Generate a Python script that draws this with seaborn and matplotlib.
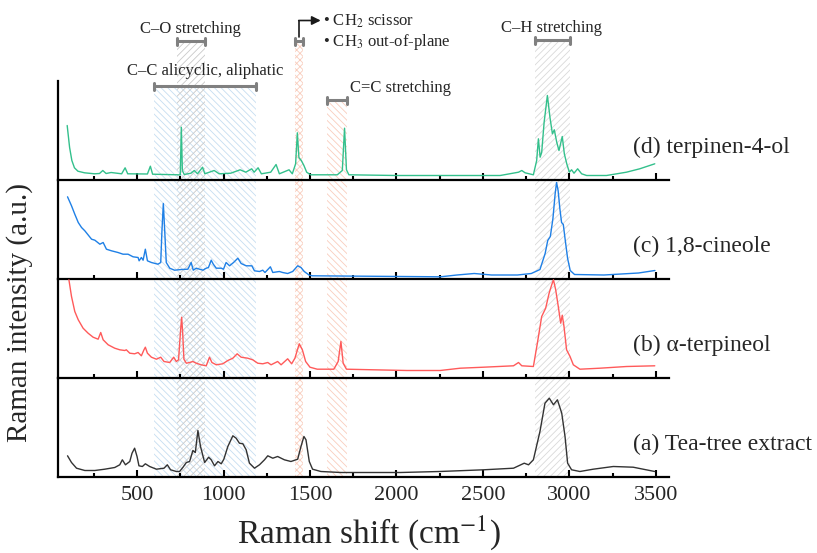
import seaborn as sns
import matplotlib.pyplot as plt
from matplotlib.ticker import MultipleLocator

# spectra: Raman shift (cm-1) and height above each panel baseline (px)
d_x = [96, 110, 123, 138, 158, 196, 254, 283, 302, 321, 350, 411, 431, 446, 560, 577, 590,
       735, 750, 756, 762, 773, 812, 831, 850, 879, 892, 946, 975, 1042, 1096, 1129, 1163,
       1177, 1200, 1219, 1273, 1304, 1323, 1379, 1398, 1417, 1427, 1436, 1450, 1465, 1481,
       1504, 1658, 1687, 1700, 1711, 1725, 2000, 2600, 2706, 2725, 2744, 2792, 2811, 2821,
       2831, 2840, 2854, 2873, 2888, 2902, 2913, 2927, 2940, 2959, 2971, 2985, 3000, 3013,
       3027, 3048, 3071, 3100, 3215, 3330, 3407, 3494]
d_y = [54, 32, 19, 11.7, 8.3, 6.7, 5.7, 6, 9, 6, 7, 5.7, 11.7, 5.7, 5.5, 13.3, 5.3,
       4.7, 4.5, 52.3, 9, 5, 6.3, 9, 5.7, 12.3, 5.7, 9, 5.7, 6.3, 9.7, 7.3, 10.7,
       7.3, 11.7, 5.7, 7.3, 15, 5.7, 9.7, 5.7, 15.7, 46.7, 22, 19, 14, 7.3,
       4.7, 4.7, 9, 51.3, 9.7, 4.7, 4, 4, 7.3, 9, 6.7, 4.7, 19, 40.7,
       22.3, 27, 57, 84, 62, 45.7, 49.7, 37.3, 29, 43, 25.7, 15.7, 7.3, 9.7,
       6.3, 10.7, 5.7, 4, 4, 7.3, 10.7, 15.7]

c_x = [98, 121, 140, 160, 179, 198, 237, 256, 285, 304, 323, 352, 390, 419, 448, 477, 506,
       512, 525, 535, 548, 560, 583, 621, 637, 644, 652, 660, 669, 689, 717, 756, 794, 813,
       825, 842, 862, 881, 900, 913, 929, 941, 958, 987, 1000, 1015, 1035, 1058, 1083, 1102,
       1131, 1164, 1179, 1208, 1227, 1240, 1271, 1285, 1323, 1342, 1371, 1400, 1429, 1448,
       1467, 1496, 1515, 2255, 2350, 2450, 2550, 2700, 2780, 2830, 2860, 2875, 2890, 2905,
       2918, 2926, 2935, 2945, 2955, 2965, 2975, 2990, 3005, 3030, 3200, 3400, 3495]
c_y = [81.7, 72.7, 64.3, 56, 51, 47.7, 39.3, 38.3, 34.3, 36, 29.3, 27.7, 26, 24.3, 24.3, 21.7, 21,
       17.7, 21, 18.3, 29.3, 17.7, 16, 14.3, 16, 47.7, 75, 47.7, 16, 10.3, 8.3, 9, 9.3, 16,
       8.3, 10.3, 9.3, 8.3, 10.3, 11, 18.3, 14.3, 10.3, 10.3, 9.3, 16, 12.7, 16, 20.3, 15,
       12.7, 12.7, 7.7, 7, 8.3, 6, 11.7, 6, 7, 6, 5, 7, 12.7, 11,
       7, 3.3, 2.7, 1.7, 3.5, 5, 3.5, 3.5, 5, 9, 25, 38, 42, 60,
       85, 96, 88, 70, 56, 54, 40, 20, 8, 4, 3.5, 5.5, 8]

b_x = [106, 121, 140, 160, 188, 217, 246, 275, 290, 304, 333, 371, 400, 429, 438, 458, 486,
       506, 525, 540, 548, 560, 583, 612, 637, 656, 689, 712, 727, 740, 752, 758, 764, 771,
       785, 804, 823, 842, 871, 900, 919, 933, 958, 996, 1025, 1054, 1079, 1102, 1140, 1169,
       1198, 1227, 1256, 1275, 1313, 1333, 1371, 1394, 1413, 1438, 1456, 1475, 1500, 1542,
       1638, 1663, 1679, 1692, 1711, 1869, 2061, 2253, 2369, 2504, 2677, 2706, 2725, 2792,
       2815, 2840, 2863, 2883, 2898, 2908, 2921, 2936, 2950, 2959, 2969, 2984, 3004, 3023,
       3061, 3177, 3331, 3494]
b_y = [97.7, 81, 66, 57.7, 49.3, 44.3, 40.3, 38.3, 45, 37.7, 32.7, 29.3, 27.7, 27, 27.7, 24.3, 23.7,
       25, 21.7, 27.7, 30.3, 24.3, 20.3, 18.3, 20.3, 16, 15, 20.3, 16, 17.7, 47.7, 60.3, 44.3, 18.3,
       14.3, 15, 16, 14.3, 12.7, 11.7, 20.3, 15, 12.7, 13.7, 17, 19.3, 23.7, 20.3, 19.3, 17.7,
       14.3, 13.7, 15, 12.7, 16, 12.7, 18.7, 13.7, 19.3, 33.7, 27.7, 16, 10.3, 8.3,
       8.3, 16, 36, 14.3, 8.3, 7.7, 7, 7, 9.3, 10.3, 11.7, 15, 11.7, 11,
       34.3, 61, 69.3, 84.3, 92.7, 97.7, 87.7, 71, 54.3, 62.3, 51, 27.7, 21, 12.7,
       8.3, 9.3, 11, 11.7]

a_x = [98, 121, 150, 198, 256, 313, 371, 400, 415, 433, 458, 471, 486, 500, 511, 531, 548,
       573, 612, 656, 675, 694, 727, 746, 766, 785, 804, 823, 837, 852, 867, 891, 914, 929,
       948, 968, 987, 1002, 1025, 1054, 1073, 1092, 1112, 1131, 1150, 1179, 1208, 1237, 1256,
       1285, 1313, 1352, 1390, 1429, 1448, 1465, 1477, 1496, 1515, 1563, 1679, 1871, 2023,
       2250, 2504, 2677, 2739, 2764, 2792, 2830, 2859, 2884, 2908, 2931, 2956, 2975, 2990,
       3013, 3061, 3138, 3254, 3369, 3494]
a_y = [20.7, 14, 8.3, 6, 6, 7.3, 9, 11.7, 16.7, 11.7, 15, 23.3, 28.3, 20, 10.7, 10, 12.7,
       10, 7.3, 8.3, 11.7, 6.7, 5, 5, 9.3, 14, 15, 26, 24, 46, 30, 14, 19.3, 16.7,
       10.7, 15, 12.7, 17.3, 30, 40.7, 38.3, 33.3, 32.7, 26.7, 13.3, 8.3, 11.7, 16.7, 20.7,
       18.3, 20, 16.7, 15, 17.3, 30, 40, 36.7, 15, 7.3, 5, 4, 4, 4,
       5, 6.7, 8.3, 13.3, 11.7, 16.7, 45, 73.3, 78.3, 71.7, 76.7, 63.3, 40, 13.3,
       6.7, 5, 7.3, 10, 9.3, 5]

labels = ["(d) terpinen-4-ol", "(c) 1,8-cineole", "(b) α-terpineol", "(a) Tea-tree extract"]
colors = ["#33c08c", "#1f80e6", "#ff5a5a", "#333333"]
spectra = [(d_x, d_y), (c_x, c_y), (b_x, b_y), (a_x, a_y)]

# assigned bands (cm-1)
band_lo = [600, 730, 1415, 1600, 2800]
band_hi = [1190, 895, 1462, 1712, 3003]
band_col = ["#c6ddf1", "#c9c9c9", "#f9cdbd", "#f9cdbd", "#d9d9d9"]
band_hatch = ["\\\\\\\\\\", "/////", "xxxxx", "\\\\\\\\\\", "/////"]
bracket_y = [86, 41, 41, 100, 40]  # pixel rows of the grey brackets

sns.set_theme(style="ticks")
plt.rcParams['font.family'] = ['Liberation Serif', 'DejaVu Serif']
plt.rcParams['mathtext.fontset'] = 'stix'
plt.rcParams['hatch.linewidth'] = 0.6

W, H = 817, 553
left, right = 57.5, 669.3
base = 476.5
ph = 99
xlim = (40, 3578)

def box(l, t, r, b):
    return [l / W, 1 - b / H, (r - l) / W, (b - t) / H]

fig = plt.figure(figsize=(W / 100, H / 100), dpi=100)

# overlay in pixel rows for the bands and their labels
ov = fig.add_axes(box(left, 0, right, base), zorder=0)
ov.set_xlim(xlim)
ov.set_ylim(base, 0)
ov.axis('off')
for lo, hi, col, hat, yb in zip(band_lo, band_hi, band_col, band_hatch, bracket_y):
    ov.fill_between([lo, hi], yb + 2, base, facecolor='none', edgecolor=col,
                    hatch=hat, linewidth=0)
    ov.plot([lo, hi], [yb, yb], color='#808080', lw=2.2, solid_capstyle='butt')
    for xe in (lo, hi):
        ov.plot([xe, xe], [yb - 3.5, yb + 3.5], color='#808080', lw=2.2)

ov.text(808, 33, "C–O stretching", fontsize=12, ha='center', va='baseline')
ov.text(895, 75, "C–C alicyclic, aliphatic", fontsize=12, ha='center', va='baseline')
ov.text(1732, 92, "C=C stretching", fontsize=12, ha='left', va='baseline')
ov.text(2899, 32, "C–H stretching", fontsize=12, ha='center', va='baseline')
ov.text(1574, 26, "• CH$_2$ scissor", fontsize=12, ha='left', va='baseline')
ov.text(1574, 46, "• CH$_3$ out-of-plane", fontsize=12, ha='left', va='baseline')
ov.plot([1438, 1438], [37, 20.5], color='k', lw=1.2)
ov.annotate('', xy=(1562, 20.5), xytext=(1435, 20.5),
            arrowprops=dict(arrowstyle='-|>', color='k', lw=1.2, mutation_scale=13,
                            shrinkA=0, shrinkB=0))

axes = []
for i, ((xs, ys), col, lab) in enumerate(zip(spectra, colors, labels)):
    bot = base - (3 - i) * ph
    ax = fig.add_axes(box(left, bot - ph, right, bot), zorder=1)
    ax.patch.set_visible(False)
    sns.lineplot(x=xs, y=ys, ax=ax, color=col, linewidth=1.0, estimator=None)
    ax.set_xlim(xlim)
    ax.set_ylim(0, ph)
    ax.set_yticks([])
    ax.set_xlabel('')
    ax.set_ylabel('')
    for s in ('top', 'right'):
        ax.spines[s].set_visible(False)
    for s in ('left', 'bottom'):
        ax.spines[s].set_linewidth(1.6)
        ax.spines[s].set_color('black')
    ax.xaxis.set_major_locator(MultipleLocator(500))
    ax.xaxis.set_minor_locator(MultipleLocator(250))
    ax.tick_params(axis='x', which='major', direction='in', length=5, width=1.5,
                   color='black', labelsize=16, pad=7, labelbottom=(i == 3))
    ax.tick_params(axis='x', which='minor', direction='in', length=3, width=1.5, color='black')
    ax.text(3367, 32, lab, fontsize=17, ha='left', va='center', clip_on=False)
    axes.append(ax)

axes[-1].set_xticks(range(500, 3501, 500))

fig.text(369 / W, 1 - 533 / H, "Raman shift (cm$^{-1}$)", fontsize=24, ha='center', va='center')
fig.text(20 / W, 1 - 312 / H, "Raman intensity (a.u.)", fontsize=21, rotation=90,
         ha='center', va='center')

fig.savefig("out.png", dpi=100)
